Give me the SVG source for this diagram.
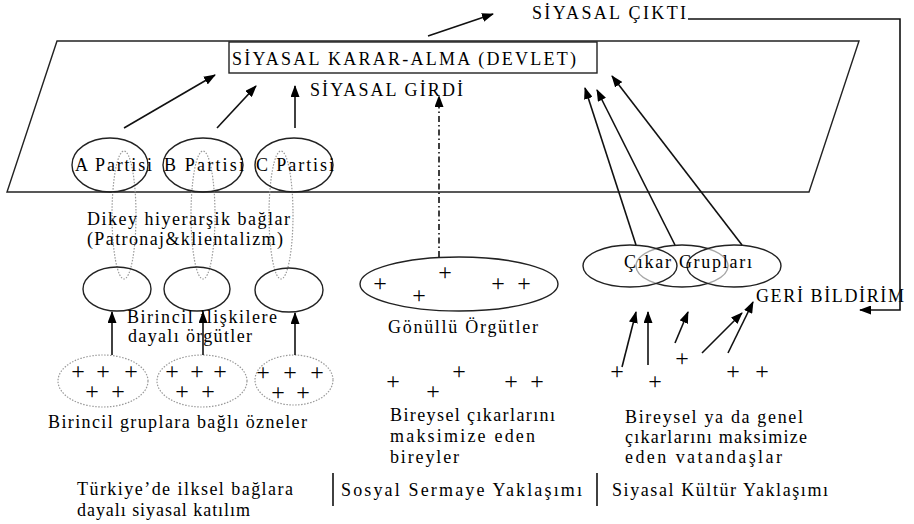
<svg xmlns="http://www.w3.org/2000/svg" width="914" height="524" viewBox="0 0 914 524">
<style>
.sh{fill:none;stroke:#222;stroke-width:1.4;}
.dot{fill:none;stroke:#999;stroke-width:1.2;stroke-dasharray:1.5 1.5;}
.ar{fill:none;stroke:#111;stroke-width:1.6;marker-end:url(#ah);}
.ln{fill:none;stroke:#111;stroke-width:1.6;}
.pls{fill:none;stroke:#111;stroke-width:1.4;}
</style>
<defs>
<marker id="ah" markerUnits="userSpaceOnUse" markerWidth="12" markerHeight="9" refX="11" refY="4.5" orient="auto">
<path d="M0,0 L12,4.5 L0,9 z" fill="#000"/>
</marker>
</defs>
<rect width="914" height="524" fill="#fff"/>

<g id="state-plane">
<polygon points="57,41 859,41 809,192 7,192" class="sh"/>
</g>

<g id="karar-alma">
<rect x="229" y="42" width="368" height="31" class="sh"/>
<text x="232" y="65" font-family="Liberation Serif" font-size="18" textLength="344" lengthAdjust="spacing">SİYASAL KARAR-ALMA (DEVLET)</text>
</g>
<g id="girdi-label"><text x="310" y="96" font-family="Liberation Serif" font-size="18" textLength="153" lengthAdjust="spacing">SİYASAL GİRDİ</text></g>
<g id="cikti-label"><text x="532" y="19" font-family="Liberation Serif" font-size="18" textLength="154" lengthAdjust="spacing">SİYASAL ÇIKTI</text></g>
<g id="geri-label"><text x="756" y="302" font-family="Liberation Serif" font-size="18" textLength="148" lengthAdjust="spacing">GERİ BİLDİRİM</text></g>

<g id="patronaj-loops">
<ellipse cx="124" cy="215" rx="12" ry="64" class="dot"/>
<ellipse cx="203" cy="215" rx="12" ry="64" class="dot"/>
<ellipse cx="281" cy="215" rx="12" ry="64" class="dot"/>
</g>

<g id="party-a"><ellipse cx="110" cy="165" rx="38" ry="27" class="sh"/><text x="75" y="171" font-family="Liberation Serif" font-size="18" textLength="77" lengthAdjust="spacing">A Partisi</text></g>
<g id="party-b"><ellipse cx="203" cy="165" rx="40" ry="27" class="sh"/><text x="164" y="171" font-family="Liberation Serif" font-size="18" textLength="80" lengthAdjust="spacing">B Partisi</text></g>
<g id="party-c"><ellipse cx="294" cy="165" rx="39" ry="27" class="sh"/><text x="256" y="171" font-family="Liberation Serif" font-size="18" textLength="78" lengthAdjust="spacing">C Partisi</text></g>

<g id="dikey-label">
<text x="87" y="225" font-family="Liberation Serif" font-size="18" textLength="203" lengthAdjust="spacing">Dikey hiyerarşik bağlar</text>
<text x="87" y="245" font-family="Liberation Serif" font-size="18" textLength="196" lengthAdjust="spacing">(Patronaj&amp;klientalizm)</text>
</g>

<g id="org-1"><ellipse cx="117" cy="289" rx="34" ry="22" class="sh"/></g>
<g id="org-2"><ellipse cx="197" cy="289" rx="33" ry="22" class="sh"/></g>
<g id="org-3"><ellipse cx="289" cy="290" rx="34" ry="22" class="sh"/></g>
<g id="birincil-org-label">
<text x="127" y="323" font-family="Liberation Serif" font-size="18" textLength="150" lengthAdjust="spacing">Birincil ilişkilere</text>
<text x="128" y="342" font-family="Liberation Serif" font-size="18" textLength="124" lengthAdjust="spacing">dayalı örgütler</text>
</g>

<g id="group-1">
<ellipse cx="103" cy="381" rx="45" ry="26" class="dot"/>
<text x="78" y="379" font-family="Liberation Serif" font-size="24" text-anchor="middle">+</text><text x="103" y="379" font-family="Liberation Serif" font-size="24" text-anchor="middle">+</text><text x="131" y="379" font-family="Liberation Serif" font-size="24" text-anchor="middle">+</text>
<text x="92" y="399" font-family="Liberation Serif" font-size="24" text-anchor="middle">+</text><text x="118" y="399" font-family="Liberation Serif" font-size="24" text-anchor="middle">+</text>
</g>
<g id="group-2">
<ellipse cx="202" cy="381" rx="45" ry="26" class="dot"/>
<text x="172" y="379" font-family="Liberation Serif" font-size="24" text-anchor="middle">+</text><text x="197" y="379" font-family="Liberation Serif" font-size="24" text-anchor="middle">+</text><text x="220" y="379" font-family="Liberation Serif" font-size="24" text-anchor="middle">+</text>
<text x="182" y="399" font-family="Liberation Serif" font-size="24" text-anchor="middle">+</text><text x="208" y="399" font-family="Liberation Serif" font-size="24" text-anchor="middle">+</text>
</g>
<g id="group-3">
<ellipse cx="294" cy="380" rx="39" ry="25" class="dot"/>
<text x="263" y="380" font-family="Liberation Serif" font-size="24" text-anchor="middle">+</text><text x="290" y="380" font-family="Liberation Serif" font-size="24" text-anchor="middle">+</text><text x="317" y="380" font-family="Liberation Serif" font-size="24" text-anchor="middle">+</text>
<text x="278" y="400" font-family="Liberation Serif" font-size="24" text-anchor="middle">+</text><text x="303" y="400" font-family="Liberation Serif" font-size="24" text-anchor="middle">+</text>
</g>
<g id="ozneler-label"><text x="48" y="428" font-family="Liberation Serif" font-size="18" textLength="259" lengthAdjust="spacing">Birincil gruplara bağlı özneler</text></g>

<g id="gonullu">
<ellipse cx="459" cy="284" rx="99" ry="27" class="sh"/>
<text x="380" y="291" font-family="Liberation Serif" font-size="24" text-anchor="middle">+</text><text x="419" y="303" font-family="Liberation Serif" font-size="24" text-anchor="middle">+</text><text x="445" y="280" font-family="Liberation Serif" font-size="24" text-anchor="middle">+</text>
<text x="498" y="291" font-family="Liberation Serif" font-size="24" text-anchor="middle">+</text><text x="524" y="291" font-family="Liberation Serif" font-size="24" text-anchor="middle">+</text>
<text x="388" y="333" font-family="Liberation Serif" font-size="18" textLength="150" lengthAdjust="spacing">Gönüllü Örgütler</text>
</g>
<g id="bireyler">
<text x="393" y="389" font-family="Liberation Serif" font-size="24" text-anchor="middle">+</text><text x="433" y="399" font-family="Liberation Serif" font-size="24" text-anchor="middle">+</text><text x="459" y="379" font-family="Liberation Serif" font-size="24" text-anchor="middle">+</text>
<text x="511" y="389" font-family="Liberation Serif" font-size="24" text-anchor="middle">+</text><text x="537" y="389" font-family="Liberation Serif" font-size="24" text-anchor="middle">+</text>
<text x="390" y="421" font-family="Liberation Serif" font-size="18" textLength="165" lengthAdjust="spacing">Bireysel çıkarlarını</text>
<text x="390" y="442" font-family="Liberation Serif" font-size="18" textLength="145" lengthAdjust="spacing">maksimize eden</text>
<text x="390" y="463" font-family="Liberation Serif" font-size="18" textLength="69" lengthAdjust="spacing">bireyler</text>
</g>

<g id="cikar-gruplari">
<ellipse cx="682" cy="266" rx="46" ry="21" class="sh"/>
<ellipse cx="630" cy="266" rx="47" ry="21" fill="#fff" fill-opacity="0.6" stroke="#222" stroke-width="1.4"/>
<ellipse cx="734" cy="266" rx="47" ry="21" fill="#fff" fill-opacity="0.6" stroke="#222" stroke-width="1.4"/>
<text x="624" y="268" font-family="Liberation Serif" font-size="18" textLength="128" lengthAdjust="spacing">Çıkar Grupları</text>
</g>
<g id="vatandaslar">
<text x="617" y="379" font-family="Liberation Serif" font-size="24" text-anchor="middle">+</text><text x="655" y="389" font-family="Liberation Serif" font-size="24" text-anchor="middle">+</text><text x="682" y="366" font-family="Liberation Serif" font-size="24" text-anchor="middle">+</text>
<text x="733" y="379" font-family="Liberation Serif" font-size="24" text-anchor="middle">+</text><text x="762" y="379" font-family="Liberation Serif" font-size="24" text-anchor="middle">+</text>
<text x="625" y="423" font-family="Liberation Serif" font-size="18" textLength="178" lengthAdjust="spacing">Bireysel ya da genel</text>
<text x="625" y="443" font-family="Liberation Serif" font-size="18" textLength="182" lengthAdjust="spacing">çıkarlarını maksimize</text>
<text x="625" y="463" font-family="Liberation Serif" font-size="18" textLength="157" lengthAdjust="spacing">eden vatandaşlar</text>
</g>

<g id="approaches">
<text x="77" y="495" font-family="Liberation Serif" font-size="18" textLength="216" lengthAdjust="spacing">Türkiye’de ilksel bağlara</text>
<text x="77" y="516" font-family="Liberation Serif" font-size="18" textLength="173" lengthAdjust="spacing">dayalı siyasal katılım</text>
<line x1="333" y1="473" x2="333" y2="506" class="ln"/>
<text x="341" y="496" font-family="Liberation Serif" font-size="18" textLength="241" lengthAdjust="spacing">Sosyal Sermaye Yaklaşımı</text>
<line x1="597" y1="473" x2="597" y2="506" class="ln"/>
<text x="612" y="496" font-family="Liberation Serif" font-size="18" textLength="216" lengthAdjust="spacing">Siyasal Kültür Yaklaşımı</text>
</g>

<g id="connectors">
<line x1="428" y1="36" x2="493" y2="14" class="ar"/>
<polyline points="688,19 900,19 900,310 860,310" class="ar"/>
<line x1="124" y1="128" x2="215" y2="75" class="ar"/>
<line x1="217" y1="128" x2="256" y2="86" class="ar"/>
<line x1="295" y1="128" x2="295" y2="86" class="ar"/>
<line x1="439" y1="257" x2="439" y2="96" class="ar" stroke-dasharray="6 3 1.5 3"/>
<line x1="112" y1="355" x2="112" y2="312" class="ar"/>
<line x1="203" y1="355" x2="203" y2="312" class="ar"/>
<line x1="295" y1="355" x2="295" y2="313" class="ar"/>
<line x1="636" y1="245" x2="585" y2="88" class="ar"/>
<line x1="675" y1="245" x2="597" y2="90" class="ar"/>
<line x1="742" y1="245" x2="612" y2="76" class="ar"/>
<line x1="622" y1="367" x2="636" y2="312" class="ar"/>
<line x1="648" y1="365" x2="648" y2="312" class="ar"/>
<line x1="675" y1="343" x2="688" y2="312" class="ar"/>
<line x1="702" y1="353" x2="742" y2="313" class="ar"/>
<line x1="728" y1="353" x2="753" y2="302" class="ar"/>
</g>
</svg>
